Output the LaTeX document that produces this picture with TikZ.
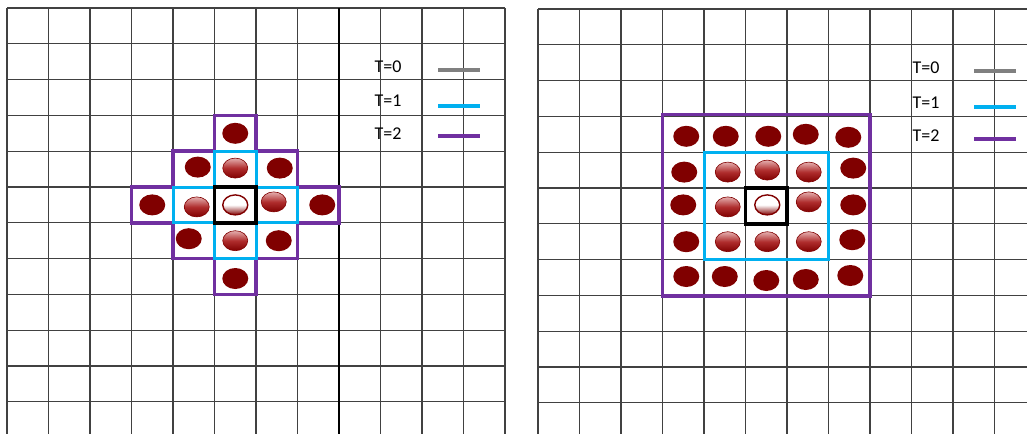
\documentclass[tikz,border=0pt]{standalone}
\usepackage{fontspec}
\setmainfont{Carlito}
\usetikzlibrary{shapes.geometric}
\definecolor{ballred}{RGB}{128,0,0}
\definecolor{warmtop}{RGB}{228,175,175}
\definecolor{warmmid}{RGB}{175,45,45}
\definecolor{gridgray}{RGB}{65,65,65}
\definecolor{tzero}{RGB}{128,128,128}
\definecolor{tone}{RGB}{0,176,240}
\definecolor{ttwo}{RGB}{112,48,160}
\begin{document}
\begin{tikzpicture}
[x=1pt,y=-1pt,
 gridline/.style={draw=gridgray, line width=1.3pt},
 hotball/.style={ellipse, fill=ballred, minimum width=26pt, minimum height=21pt, inner sep=0pt},
 warmball/.style={ellipse, draw=ballred, line width=.6pt, top color=warmtop, bottom color=ballred, middle color=warmmid, minimum width=25pt, minimum height=20pt, inner sep=0pt},
 seedball/.style={ellipse, draw=ballred, line width=1.4pt, top color=white, bottom color=ballred, middle color=white, minimum width=25pt, minimum height=20pt, inner sep=0pt},
 legendtext/.style={font=\fontsize{18}{20}\selectfont, inner sep=0pt},
 legendline/.style={line width=3.5pt}]
\useasboundingbox (0,0) rectangle (1027,434);
\clip (0,0) rectangle (1027,434);
\def \cw {41.5}
\def \ch {35.8}
% left sheet
\foreach \i in {0,...,12}
  \draw[gridline] ({7+\i*\cw},8) -- ({7+\i*\cw},434);
\foreach \j in {0,...,11}
  \draw[gridline] (7,{8+\j*\ch}) -- (505,{8+\j*\ch});
\draw[line width=1.3pt] (339,8) -- (339,434);
% right sheet
\foreach \i in {0,...,12}
  \draw[gridline] ({538+\i*\cw},9) -- ({538+\i*\cw},434);
\foreach \j in {0,...,11}
  \draw[gridline] (538,{9+\j*\ch}) -- (1027,{9+\j*\ch});

\begin{scope}[shift={(7,8)},x=41.5pt,y=-35.8pt]
\draw[ttwo,line width=3.5pt] (5,3) -- (6,3) -- (6,4) -- (7,4) -- (7,5) -- (8,5) -- (8,6) -- (7,6) -- (7,7) -- (6,7) -- (6,8) -- (5,8) -- (5,7) -- (4,7) -- (4,6) -- (3,6) -- (3,5) -- (4,5) -- (4,4) -- (5,4) -- cycle;
\draw[tone,line width=3pt] (5,4) -- (6,4) -- (6,5) -- (7,5) -- (7,6) -- (6,6) -- (6,7) -- (5,7) -- (5,6) -- (4,6) -- (4,5) -- (5,5) -- cycle;
\draw[black,line width=3.5pt] (5,5) rectangle (6,6);
\foreach \c/\r/\s/\dx/\dy in {5/3/hotball/0/0, 4/4/hotball/4/2, 5/4/warmball/0/1, 6/4/hotball/3/1,
  3/5/hotball/0/0, 4/5/warmball/3/-2, 5/5/seedball/0/0, 6/5/warmball/-3/3, 7/5/hotball/4/0,
  4/6/hotball/-5/2, 5/6/warmball/0/0, 6/6/hotball/2/0, 5/7/hotball/0/-2}
{
  \node[\s,xshift=\dx pt,yshift=\dy pt] (l\c\r) at (\c+.5,\r+.5) {};
}
\end{scope}

\begin{scope}[shift={(538,9)},x=41.5pt,y=-35.8pt]
\draw[ttwo,line width=3.5pt] (3,2.95) rectangle (8,8.02);
\draw[tone,line width=3pt] (4,4) rectangle (7,7);
\draw[black,line width=3.5pt] (5,5) rectangle (6,6);
\foreach \c/\r/\s/\dx/\dy in {3/3/hotball/3/-2, 4/3/hotball/1/-2, 5/3/hotball/2/-2, 6/3/hotball/-2/0, 7/3/hotball/-1/-3,
  3/4/hotball/1/-2, 4/4/warmball/3/-2, 5/4/warmball/1/0, 6/4/warmball/1/-2, 7/4/hotball/4/2,
  3/5/hotball/0/1, 4/5/warmball/3/-1, 5/5/seedball/1/1, 6/5/warmball/1/4, 7/5/hotball/4/1,
  3/6/hotball/3/0, 4/6/warmball/3/0, 5/6/warmball/1/0, 6/6/warmball/1/0, 7/6/hotball/3/2,
  3/7/hotball/3/1, 4/7/hotball/0/1, 5/7/hotball/0/-3, 6/7/hotball/-2/-2, 7/7/hotball/1/2}
{
  \node[\s,xshift=\dx pt,yshift=\dy pt] (r\c\r) at (\c+.5,\r+.5) {};
}
\end{scope}

% legends
\foreach \t/\ty/\ly/\c in {0/67/70/tzero, 1/101/106/tone, 2/134/136/ttwo}
{
  \node[legendtext] (lt\t) at (388,\ty) {T=\t};
  \coordinate (la\t) at (438,\ly);
  \coordinate (lb\t) at (480,\ly);
  \draw[legendline,\c] (la\t) -- (lb\t);
}
\foreach \t/\ty/\ly/\c in {0/68/71/tzero, 1/103/107/tone, 2/136/139/ttwo}
{
  \node[legendtext] (rt\t) at (926,\ty) {T=\t};
  \coordinate (ra\t) at (974,\ly);
  \coordinate (rb\t) at (1016,\ly);
  \draw[legendline,\c] (ra\t) -- (rb\t);
}
\end{tikzpicture}
\end{document}
